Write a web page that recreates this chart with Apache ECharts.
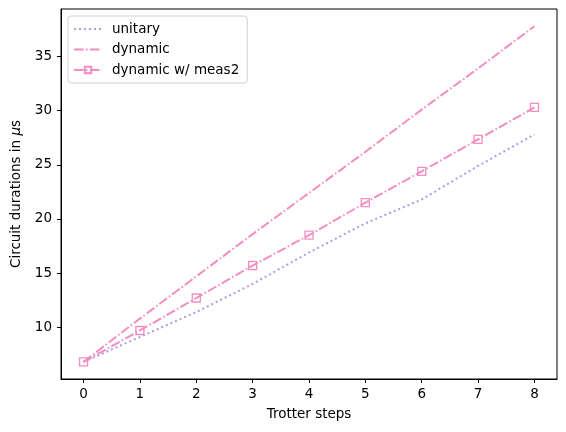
<!DOCTYPE html>
<html>
<head>
<meta charset="utf-8">
<script src="https://cdn.jsdelivr.net/npm/echarts@6/dist/echarts.min.js"></script>
<style>
  html, body { margin: 0; padding: 0; background: #fff; }
  #chart { width: 566px; height: 432px; }
</style>
</head>
<body>
<div id="chart"></div>
<script>
// values
var steps = [0, 1, 2, 3, 4, 5, 6, 7, 8];
var unitary = [6.8, 9.1, 11.4, 14.0, 16.9, 19.6, 21.8, 24.9, 27.8];
var dynamic = [6.8, 10.8, 14.7, 18.6, 22.4, 26.2, 30.1, 33.9, 37.8];
var dynamicMeas2 = [6.8, 9.7, 12.7, 15.7, 18.5, 21.5, 24.4, 27.35, 30.3];
var xTicks = [0, 1, 2, 3, 4, 5, 6, 7, 8];
var yTicks = [10, 15, 20, 25, 30, 35];

var purple = '#ab9de6';
var pink = '#f28ec0';
var font = 'DejaVu Sans';
var fs = 13.5;

function pairs(ys) {
  return steps.map(function (x, i) { return [x, ys[i]]; });
}

var myChart = echarts.init(document.getElementById('chart'));

option = {
  animation: false,
  textStyle: { fontFamily: font, color: '#000' },
  grid: {
    left: 61, right: 9, top: 9, bottom: 53,
    show: true, borderColor: '#000', borderWidth: 1
  },
  legend: {
    orient: 'vertical',
    left: 68, top: 16,
    padding: [5, 8, 5, 5],
    itemWidth: 28, itemHeight: 8, itemGap: 4.5,
    borderColor: '#d0d0d0', borderWidth: 1, borderRadius: 3,
    backgroundColor: 'rgba(255,255,255,0.8)',
    textStyle: { fontFamily: font, fontSize: fs, lineHeight: 16, color: '#000', padding: [0, 0, 0, 5] },
    data: [
      { name: 'unitary', itemStyle: { opacity: 0 } },
      { name: 'dynamic', itemStyle: { opacity: 0 } },
      { name: 'dynamic w/ meas2' }
    ]
  },
  xAxis: {
    type: 'value',
    min: -0.4, max: 8.4,
    name: 'Trotter steps',
    nameLocation: 'middle', nameGap: 28,
    nameTextStyle: { fontFamily: font, fontSize: fs, color: '#000' },
    axisLine: { show: true, onZero: false, lineStyle: { color: '#000', width: 1 } },
    axisTick: { show: true, length: 4, customValues: xTicks, lineStyle: { color: '#000' } },
    axisLabel: { customValues: xTicks, margin: 8, fontSize: fs, color: '#000', fontFamily: font },
    splitLine: { show: false }
  },
  yAxis: {
    type: 'value',
    min: 5.22, max: 39.39,
    name: 'Circuit durations in {i|μ}s',
    nameLocation: 'middle', nameGap: 34, nameRotate: 90,
    nameTextStyle: {
      fontFamily: font, fontSize: fs, color: '#000',
      rich: { i: { fontFamily: font, fontSize: fs, fontStyle: 'italic', color: '#000' } }
    },
    axisLine: { show: true, onZero: false, lineStyle: { color: '#000', width: 1 } },
    axisTick: { show: true, length: 4, customValues: yTicks, lineStyle: { color: '#000' } },
    axisLabel: { customValues: yTicks, margin: 9, fontSize: fs, color: '#000', fontFamily: font },
    splitLine: { show: false }
  },
  series: [
    {
      name: 'unitary',
      type: 'line',
      data: pairs(unitary),
      symbol: 'none',
      color: purple,
      lineStyle: { color: purple, width: 2, type: [2, 3] }
    },
    {
      name: 'dynamic',
      type: 'line',
      data: pairs(dynamic),
      symbol: 'none',
      color: pink,
      lineStyle: { color: pink, width: 2, type: [9.5, 2.4, 1.6, 2.4] }
    },
    {
      name: 'dynamic w/ meas2',
      type: 'line',
      data: pairs(dynamicMeas2),
      symbol: 'rect',
      symbolSize: 8,
      showSymbol: true,
      color: pink,
      itemStyle: { color: 'rgba(255,255,255,0)', borderColor: pink, borderWidth: 1.3 },
      lineStyle: { color: pink, width: 2, type: [9.5, 2.4, 1.6, 2.4] }
    }
  ]
};

myChart.setOption(option);
</script>
</body>
</html>
